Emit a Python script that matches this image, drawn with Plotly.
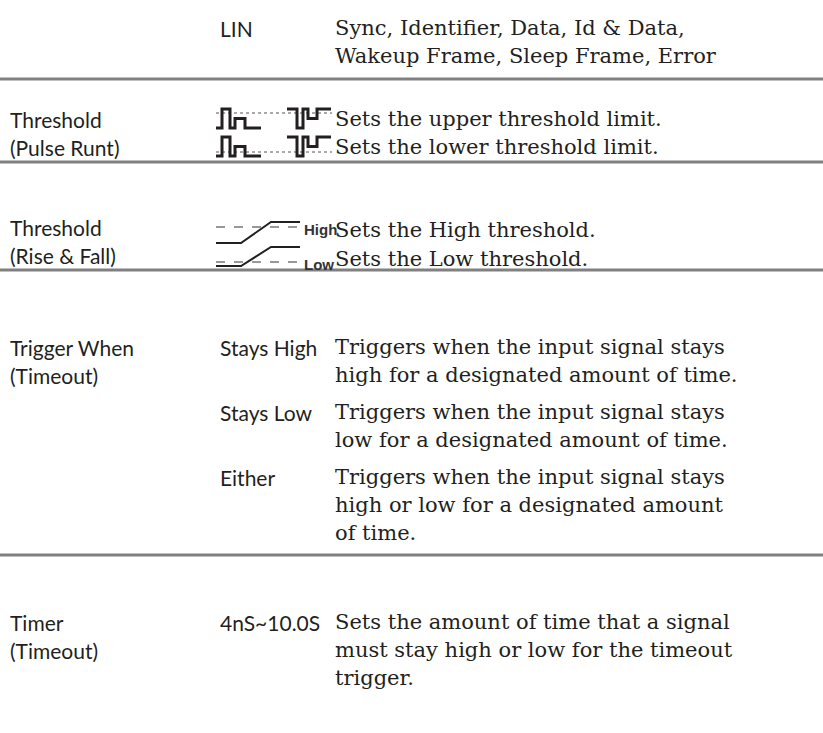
import plotly.graph_objects as go

W, H = 823, 733

# ---------------- content ----------------
lin_label = "LIN"
lin_desc = ["Sync, Identifier, Data, Id & Data,", "Wakeup Frame, Sleep Frame, Error"]

param_names = [
    ["Threshold", "(Pulse Runt)"],
    ["Threshold", "(Rise & Fall)"],
    ["Trigger When", "(Timeout)"],
    ["Timer", "(Timeout)"],
]
pulse_desc = ["Sets the upper threshold limit.", "Sets the lower threshold limit."]
rise_desc = ["Sets the High threshold.", "Sets the Low threshold."]
rise_tags = ["High", "Low"]
when_opts = ["Stays High", "Stays Low", "Either"]
when_desc = [
    ["Triggers when the input signal stays", "high for a designated amount of time."],
    ["Triggers when the input signal stays", "low for a designated amount of time."],
    ["Triggers when the input signal stays", "high or low for a designated amount", "of time."],
]
timer_range = "4nS~10.0S"
timer_desc = ["Sets the amount of time that a signal",
              "must stay high or low for the timeout", "trigger."]

# waveform level sequences (1 = high, 0 = low, 0.5 = runt) and segment widths
pos_runt_levels = [0, 1, 0, 0.5, 0]
pos_runt_widths = [6, 8, 5, 10, 16]
neg_runt_levels = [1, 0, 1, 0.5, 1]
neg_runt_widths = [10, 6, 5, 9, 14]

# ---------------- layout constants ----------------
X1, X2, X3 = 8, 218, 333
LH = 28
SANS = "Lato"
SERIF = "DejaVu Serif"
SANS_SIZE = 21
SERIF_SIZE = 21
TXT = "#231f20"

fig = go.Figure()
ann = []
shapes = []


def text(x, y, s, font, size, color=TXT, bold=False):
    ann.append(dict(x=x, y=y, xref="x", yref="y", text=("<b>%s</b>" % s) if bold else s,
                    showarrow=False, xanchor="left", yanchor="middle",
                    font=dict(family=font, size=size, color=color)))


def hline(y):
    shapes.append(dict(type="line", xref="x", yref="y", x0=0, x1=W, y0=y, y1=y,
                       line=dict(color="#808080", width=3)))


def poly(xs, ys, width=3, dash="solid", color="#231f20"):
    fig.add_trace(go.Scatter(x=xs, y=ys, mode="lines", hoverinfo="skip",
                             line=dict(color=color, width=width, dash=dash)))


def wave(x0, top, bot, levels, widths):
    xs, ys = [], []
    x = x0
    for lv, w in zip(levels, widths):
        y = bot - lv * (bot - top)
        xs += [x, x + w]
        ys += [y, y]
        x += w
    poly(xs, ys, width=3)


# LIN row
text(X2, 28, lin_label, SANS, SANS_SIZE)
for i, s in enumerate(lin_desc):
    text(X3, 28 + i * LH, s, SERIF, SERIF_SIZE)
hline(79)

# Threshold (Pulse Runt)
for i, s in enumerate(param_names[0]):
    text(X1, 119 + i * LH, s, SANS, SANS_SIZE)
for i, s in enumerate(pulse_desc):
    yc = 119 + i * LH
    top, bot = yc - 10, yc + 9
    thr = top + 4 if i == 0 else bot - 4
    poly([216, 332], [thr, thr], width=1, dash="dot", color="#555555")
    wave(216, top, bot, pos_runt_levels, pos_runt_widths)
    wave(287, top, bot, neg_runt_levels, neg_runt_widths)
    text(X3, yc, s, SERIF, SERIF_SIZE)
hline(162)

# Threshold (Rise & Fall)
for i, s in enumerate(param_names[1]):
    text(X1, 227 + i * LH, s, SANS, SANS_SIZE)
rise_geom = [  # (text centre, top line, bottom line, dashed threshold, tag centre)
    (230, 222, 243, 227, 229),
    (259, 247, 266, 262, 264),
]
for (yc, top, bot, thr, ty), s, tag in zip(rise_geom, rise_desc, rise_tags):
    poly([216, 302], [thr, thr], width=1.2, dash="dash", color="#333333")
    poly([216, 241, 271, 300], [bot, bot, top, top], width=2)
    text(302, ty, tag, "Liberation Sans", 15, color="#333333", bold=True)
    text(X3, yc, s, SERIF, SERIF_SIZE)
hline(270)

# Trigger When (Timeout)
for i, s in enumerate(param_names[2]):
    text(X1, 347 + i * LH, s, SANS, SANS_SIZE)
y = 347
for opt, lines in zip(when_opts, when_desc):
    text(X2, y, opt, SANS, SANS_SIZE)
    for j, s in enumerate(lines):
        text(X3, y + j * LH, s, SERIF, SERIF_SIZE)
    y += len(lines) * LH + 9
hline(555)

# Timer (Timeout)
for i, s in enumerate(param_names[3]):
    text(X1, 622 + i * LH, s, SANS, SANS_SIZE)
text(X2, 622, timer_range, SANS, SANS_SIZE)
for j, s in enumerate(timer_desc):
    text(X3, 622 + j * LH, s, SERIF, SERIF_SIZE)

fig.update_layout(
    width=W, height=H, margin=dict(l=0, r=0, t=0, b=0),
    paper_bgcolor="white", plot_bgcolor="white", showlegend=False,
    xaxis=dict(range=[0, W], visible=False, fixedrange=True),
    yaxis=dict(range=[H, 0], visible=False, fixedrange=True),
    annotations=ann, shapes=shapes,
)
fig.write_html("out.html", config={"displayModeBar": False},
               post_script="document.body.style.margin='0px';")
